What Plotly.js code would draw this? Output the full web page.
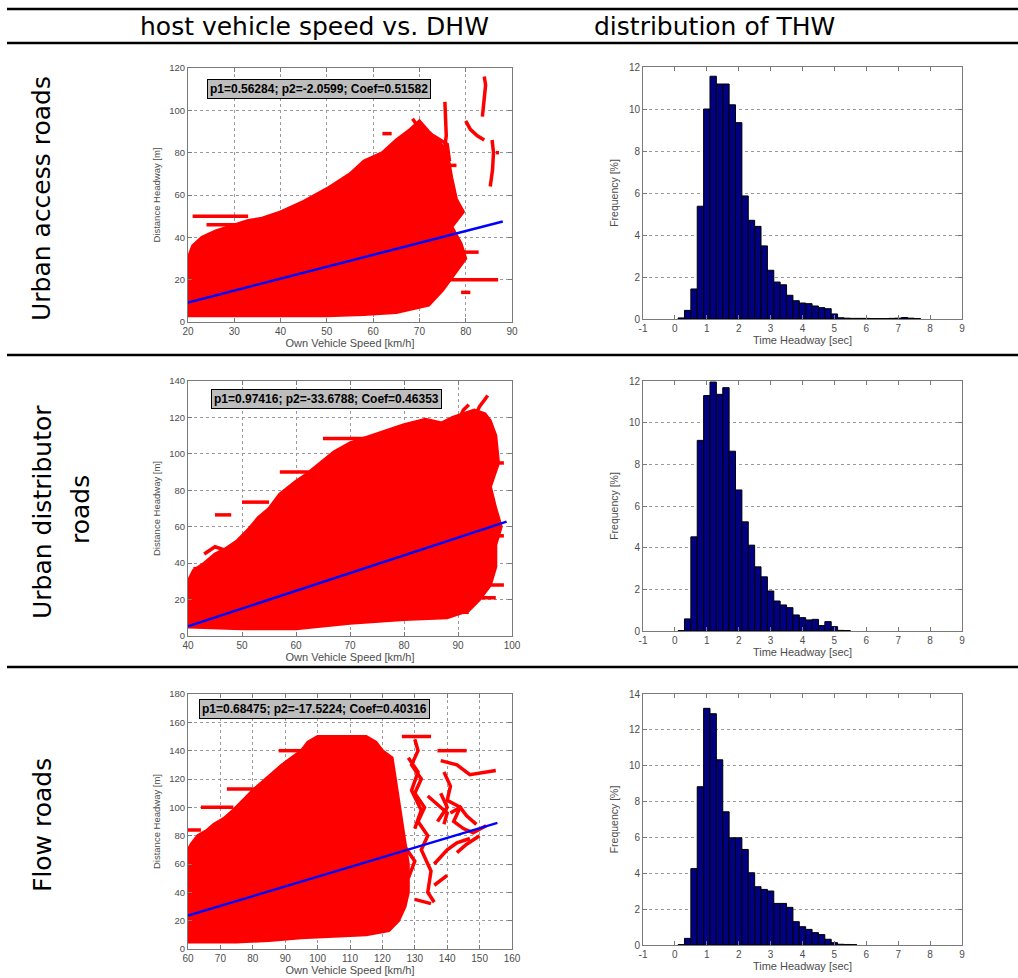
<!DOCTYPE html>
<html><head><meta charset="utf-8">
<script src="https://cdn.plot.ly/plotly-3.0.1.min.js"></script>
<style>html,body{margin:0;padding:0;background:#fff}#chart{width:1018px;height:978px}</style>
</head><body><div id="chart"></div>
<script>
// ---------- labels ----------
const columnTitles = ['host vehicle speed vs. DHW', 'distribution of THW'];
const rowTitles = ['Urban access roads', 'Urban distributor', 'roads', 'Flow roads'];
const fitTexts = [
  'p1=0.56284; p2=-2.0599; Coef=0.51582',
  'p1=0.97416; p2=-33.6788; Coef=0.46353',
  'p1=0.68475; p2=-17.5224; Coef=0.40316'
];

// ---------- THW histograms (bin centres, % frequency) ----------
const thwBins = [0.2,0.4,0.6,0.8,1.0,1.2,1.4,1.6,1.8,2.0,2.2,2.4,2.6,2.8,3.0,3.2,3.4,3.6,3.8,4.0,4.2,4.4,4.6,4.8,5.0,5.2,5.4,5.6,5.8,6.0,6.2,6.4,6.6,6.8,7.0,7.2,7.4,7.6];
const thwAccess = [0.05,0.41,1.43,5.37,10.0,11.56,11.19,11.19,10.2,9.35,5.86,4.7,4.41,3.48,2.32,1.76,1.63,1.13,0.87,0.76,0.73,0.62,0.54,0.49,0.24,0.06,0.04,0.03,0.03,0.03,0.02,0.02,0.02,0.03,0.04,0.07,0.04,0.02];
const thwDistributor = [0.02,0.58,4.52,9.15,11.3,11.95,11.36,11.68,8.63,6.77,5.24,4.12,3.08,2.6,1.92,1.44,1.25,1.12,0.77,0.64,0.53,0.56,0.26,0.45,0.21,0.03,0.02,null,null,null,null,null,null,null,null,null,null,null];
const thwFlow = [0.02,0.37,4.26,8.83,13.2,12.9,10.33,7.43,5.98,5.98,5.33,4.03,3.25,3.1,3.01,2.32,2.32,2.1,1.3,1.02,0.87,0.69,0.58,0.32,0.13,0.04,0.03,0.02,null,null,null,null,null,null,null,null,null,null];
const histTickVals = [-1,0,1,2,3,4,5,6,7,8,9];
const histTickText = ['-1','0','1','2','3','4','5','6','7','8','9'];

// ---------- speed vs DHW: outline of the dense point cloud + stray trails ----------
const accessCloudX = [20,20,21,23,26,30,33,36,40,45,50,55,58,62,65,68,70,72,74,76,77,78,79.5,77,79,80,78,75,72,65,58,50,40,30,20];
const accessCloudY = [3,30,36,40,43,46,48,49,52,57,63,70,76,80,86,91,95,90,86,80,68,58,52,45,37,30,24,15,8,4.5,3.5,3,3,3,3];
const accessTrailX = [21,33,null,24,36,null,83.6,84,84.3,84,null,85.3,85.8,86,85.7,null,80,81,82.5,84,null,75.5,75.6,75.8,75.2,null,79,81,null,76,87,null,78,82.8,null,68.5,69.5,null,62,64,null,86.5,87.2,null,75,78,null,73,76,76.5];
const accessTrailY = [50,50,null,46,46,null,97,105,112,116,null,64,72,80,86,null,95,91,88,86,null,104,96,88,78,null,14,14,null,20,20,null,33,33,null,96,93,null,89,89,null,80,80,null,74,74,null,88,84,76];
const accessFitX = [20, 88];
const accessFitY = [9.2, 47.5];

const distCloudX = [40,40,41,43,45,47,49,51,53,55,57,60,62,64,67,70,73,76,80,84,87,89,91,93,95,96,97,97.5,96,97,98,97,97,96,94,92,88,80,70,60,50,40];
const distCloudY = [5,30,36,40,45,48,52,58,65,70,78,85,89,94,101,106,109,112,116,119,117,120,122,124,122,118,110,95,82,70,60,50,38,28,20,14,10,9,7,4,4,5];
const distTrailX = [41,45,null,45,48,null,50,55,null,57,64,null,65,76,null,90,91,92,null,93,94,95,95.5,null,96,98.5,null,95,98.5,null,93,98.5,null,92,97,null,93,96,null,88,92,null,78,82,null,43,45,47,49];
const distTrailY = [37,37,null,66.5,66.5,null,73.5,73.5,null,90,90,null,108.5,108.5,null,118,124,127,null,120,126,130,132,null,95,95,null,55,55,null,28,28,null,21,21,null,80,78,null,13,13,null,113.5,113.5,null,45,49,47,44];
const distFitX = [40, 99];
const distFitY = [5.3, 62.8];

const flowCloudX = [60,60,61,63,66,68,71,74,77,80,83,86,89,92,95,97,100,105,110,115,118,120,123,124,125,126,127,128,128,127,125,122,115,105,95,85,75,60];
const flowCloudY = [5,70,74,80,84,88,92,98,105,112,118,124,130,135,140,146,150,150,150,150,146,140,135,120,105,90,75,60,40,30,20,13,10,9,8,6,5,5];
const flowTrailX = [126,135,null,130,131,129,132,130,133,131,134,132,135,134,136,null,137,146,null,138,143,147,155,null,139,141,140,144,142,145,148,152,null,137,140,138,null,136,140,143,147,null,136,140,null,130,135,null,64,74,null,72,85,null,60,64,null,88,97,null,128,131,129,132,130,null,141,144,146,149,null,134,137,140,139,null,127,130,128,null,143,146,150];
const flowTrailY = [150,150,null,148,140,130,120,110,100,90,80,70,55,40,33,null,140,140,null,133,130,123,126,null,125,115,105,100,90,85,82,87,null,90,100,110,null,60,70,75,78,null,45,52,null,35,32,null,100,100,null,113,113,null,84,84,null,140,140,null,135,125,112,98,85,null,96,100,94,88,null,108,102,96,88,null,72,62,50,null,68,74,80];
const flowFitX = [60, 155.5];
const flowFitY = [23.6, 89.0];

// ---------- helpers ----------
const FONT = 'Liberation Sans, Arial, sans-serif';
const HEAD = 'DejaVu Sans, Verdana, sans-serif';
const TXT = '#4d4d4d';
const FRAME = '#7a7a7a';
function ax(extra) {
  return Object.assign({
    showline: true, linecolor: FRAME, linewidth: 1, mirror: 'ticks',
    ticks: 'inside', ticklen: 4, tickcolor: FRAME, tickwidth: 1,
    showgrid: true, gridcolor: '#9a9a9a', griddash: 'dot', gridwidth: 1,
    zeroline: false, fixedrange: true, automargin: false,
    tickfont: {size: 10, color: TXT, family: FONT}
  }, extra);
}
const W = 1018, H = 978;
const px = v => v / W;
const py = v => 1 - v / H;

function cloud(x, y, xa, ya) {
  return {type: 'scatter', mode: 'lines', x: x, y: y, xaxis: xa, yaxis: ya,
    fill: 'toself', fillcolor: '#ff0000', line: {color: '#ff0000', width: 3}, hoverinfo: 'skip'};
}
function trail(x, y, xa, ya) {
  return {type: 'scatter', mode: 'lines', x: x, y: y, xaxis: xa, yaxis: ya,
    connectgaps: false, line: {color: '#ff0000', width: 3.5}, hoverinfo: 'skip'};
}
function fit(x, y, xa, ya) {
  return {type: 'scatter', mode: 'lines', x: x, y: y, xaxis: xa, yaxis: ya,
    line: {color: '#0000ff', width: 2.5}, hoverinfo: 'skip'};
}
function hist(y, xa, ya) {
  return {type: 'bar', x: thwBins, y: y, xaxis: xa, yaxis: ya, width: 0.2,
    marker: {color: '#000080', line: {color: '#000000', width: 1}}, hoverinfo: 'skip'};
}
function label(text, x, y, angle) {
  return {text: text, x: px(x), y: py(y), xref: 'paper', yref: 'paper', showarrow: false,
    xanchor: 'center', yanchor: 'middle', textangle: angle || 0,
    font: {family: HEAD, size: 25, color: '#000'}};
}
function box(text, x, y) {
  return {text: '<b>' + text + '</b>', x: px(x), y: py(y), xref: 'paper', yref: 'paper', showarrow: false,
    xanchor: 'center', yanchor: 'middle',
    bgcolor: '#bdbdbd', bordercolor: '#000', borderwidth: 1, borderpad: 2,
    font: {family: FONT, size: 12, color: '#000'}};
}

const data = [
  cloud(accessCloudX, accessCloudY, 'x', 'y'),
  trail(accessTrailX, accessTrailY, 'x', 'y'),
  fit(accessFitX, accessFitY, 'x', 'y'),
  hist(thwAccess, 'x2', 'y2'),
  cloud(distCloudX, distCloudY, 'x3', 'y3'),
  trail(distTrailX, distTrailY, 'x3', 'y3'),
  fit(distFitX, distFitY, 'x3', 'y3'),
  hist(thwDistributor, 'x4', 'y4'),
  cloud(flowCloudX, flowCloudY, 'x5', 'y5'),
  trail(flowTrailX, flowTrailY, 'x5', 'y5'),
  fit(flowFitX, flowFitY, 'x5', 'y5'),
  hist(thwFlow, 'x6', 'y6')
];

const xTitleS = {text: 'Own Vehicle Speed [km/h]', font: {size: 11, color: TXT, family: FONT}, standoff: 2};
const yTitleS = {text: 'Distance Headway [m]', font: {size: 9.5, color: TXT, family: FONT}, standoff: 6};
const xTitleH = {text: 'Time Headway [sec]', font: {size: 11, color: TXT, family: FONT}, standoff: 2};
const yTitleH = {text: 'Frequency [%]', font: {size: 10.5, color: TXT, family: FONT}, standoff: 8};

const sx = [px(188), px(512)];
const hx = [px(643), px(962)];
const ytf = {size: 9.5, color: TXT, family: FONT};

const layout = {
  width: W, height: H,
  margin: {l: 0, r: 0, t: 0, b: 0},
  paper_bgcolor: '#ffffff', plot_bgcolor: '#ffffff',
  showlegend: false, bargap: 0,
  font: {family: FONT, color: TXT},
  xaxis:  ax({domain: sx, range: [20, 90], dtick: 10, anchor: 'y', title: xTitleS}),
  yaxis:  ax({domain: [py(322), py(68)], range: [0, 120], dtick: 20, anchor: 'x', title: yTitleS, tickfont: ytf}),
  xaxis2: ax({domain: hx, range: [-1, 9], tickvals: histTickVals, ticktext: histTickText, showgrid: false, anchor: 'y2', title: xTitleH}),
  yaxis2: ax({domain: [py(319), py(67)], range: [0, 12], dtick: 2, anchor: 'x2', title: yTitleH}),
  xaxis3: ax({domain: sx, range: [40, 100], dtick: 10, anchor: 'y3', title: xTitleS}),
  yaxis3: ax({domain: [py(636), py(381)], range: [0, 140], dtick: 20, anchor: 'x3', title: yTitleS, tickfont: ytf}),
  xaxis4: ax({domain: hx, range: [-1, 9], tickvals: histTickVals, ticktext: histTickText, showgrid: false, anchor: 'y4', title: xTitleH}),
  yaxis4: ax({domain: [py(631), py(381)], range: [0, 12], dtick: 2, anchor: 'x4', title: yTitleH}),
  xaxis5: ax({domain: sx, range: [60, 160], dtick: 10, anchor: 'y5', title: xTitleS}),
  yaxis5: ax({domain: [py(949), py(694)], range: [0, 180], dtick: 20, anchor: 'x5', title: yTitleS, tickfont: ytf}),
  xaxis6: ax({domain: hx, range: [-1, 9], tickvals: histTickVals, ticktext: histTickText, showgrid: false, anchor: 'y6', title: xTitleH}),
  yaxis6: ax({domain: [py(945), py(694)], range: [0, 14], dtick: 2, anchor: 'x6', title: yTitleH}),
  shapes: [9, 43, 355, 667].map(yy => ({
    type: 'line', xref: 'paper', yref: 'paper', x0: px(7), x1: 1, y0: py(yy), y1: py(yy),
    line: {color: '#000000', width: 2.5}
  })),
  annotations: [
    label(columnTitles[0], 314, 27),
    label(columnTitles[1], 714, 27),
    label(rowTitles[0], 42, 199, -90),
    label(rowTitles[1], 42, 512, -90),
    label(rowTitles[2], 80, 510, -90),
    label(rowTitles[3], 42, 825, -90),
    box(fitTexts[0], 318.5, 88.5),
    box(fitTexts[1], 326.5, 399),
    box(fitTexts[2], 314, 708.5)
  ]
};

Plotly.newPlot('chart', data, layout, {staticPlot: true, displayModeBar: false});
</script>
</body></html>
